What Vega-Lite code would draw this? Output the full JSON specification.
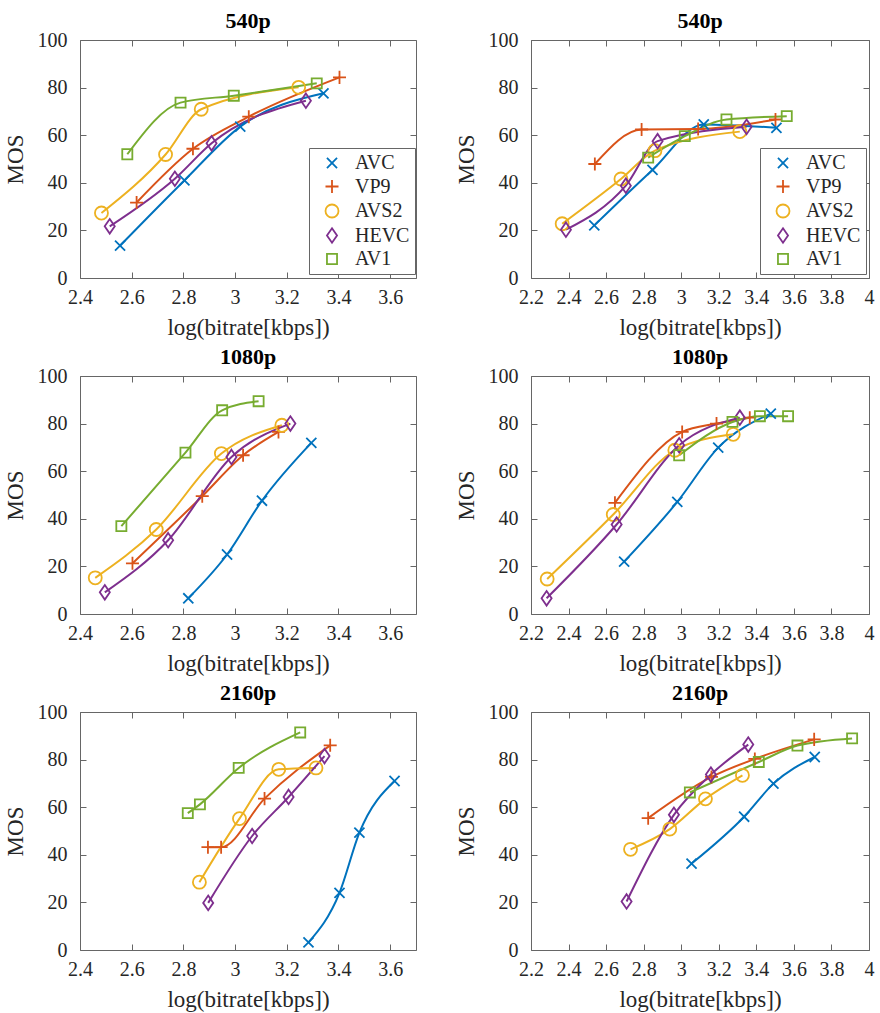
{
  "$schema": "https://vega.github.io/schema/vega-lite/v6.json",
  "padding": {"left": 3, "top": 9, "right": 5, "bottom": 0},
  "data": {"values": [
    {"p": "1", "codec": "AVC", "x": 2.555, "y": 13.6}, {"p": "1", "codec": "AVC", "x": 2.804, "y": 41.0}, {"p": "1", "codec": "AVC", "x": 3.020, "y": 63.6}, {"p": "1", "codec": "AVC", "x": 3.342, "y": 77.6},
    {"p": "1", "codec": "VP9", "x": 2.619, "y": 31.7}, {"p": "1", "codec": "VP9", "x": 2.837, "y": 54.3}, {"p": "1", "codec": "VP9", "x": 3.053, "y": 67.8}, {"p": "1", "codec": "VP9", "x": 3.404, "y": 84.3},
    {"p": "1", "codec": "AVS2", "x": 2.483, "y": 27.3}, {"p": "1", "codec": "AVS2", "x": 2.731, "y": 51.9}, {"p": "1", "codec": "AVS2", "x": 2.869, "y": 70.9}, {"p": "1", "codec": "AVS2", "x": 3.246, "y": 80.1},
    {"p": "1", "codec": "HEVC", "x": 2.515, "y": 21.7}, {"p": "1", "codec": "HEVC", "x": 2.767, "y": 41.7}, {"p": "1", "codec": "HEVC", "x": 2.909, "y": 56.6}, {"p": "1", "codec": "HEVC", "x": 3.274, "y": 74.5},
    {"p": "1", "codec": "AV1", "x": 2.583, "y": 52.0}, {"p": "1", "codec": "AV1", "x": 2.789, "y": 73.7}, {"p": "1", "codec": "AV1", "x": 2.995, "y": 76.6}, {"p": "1", "codec": "AV1", "x": 3.316, "y": 81.8},

    {"p": "2", "codec": "AVC", "x": 2.537, "y": 22.1}, {"p": "2", "codec": "AVC", "x": 2.847, "y": 45.4}, {"p": "2", "codec": "AVC", "x": 3.120, "y": 64.5}, {"p": "2", "codec": "AVC", "x": 3.507, "y": 63.1},
    {"p": "2", "codec": "VP9", "x": 2.540, "y": 47.9}, {"p": "2", "codec": "VP9", "x": 2.789, "y": 62.4}, {"p": "2", "codec": "VP9", "x": 3.090, "y": 62.6}, {"p": "2", "codec": "VP9", "x": 3.502, "y": 66.6},
    {"p": "2", "codec": "AVS2", "x": 2.366, "y": 22.8}, {"p": "2", "codec": "AVS2", "x": 2.679, "y": 41.6}, {"p": "2", "codec": "AVS2", "x": 2.860, "y": 53.5}, {"p": "2", "codec": "AVS2", "x": 3.312, "y": 61.5},
    {"p": "2", "codec": "HEVC", "x": 2.386, "y": 20.3}, {"p": "2", "codec": "HEVC", "x": 2.705, "y": 38.8}, {"p": "2", "codec": "HEVC", "x": 2.874, "y": 57.5}, {"p": "2", "codec": "HEVC", "x": 3.348, "y": 63.5},
    {"p": "2", "codec": "AV1", "x": 2.824, "y": 50.6}, {"p": "2", "codec": "AV1", "x": 3.019, "y": 59.6}, {"p": "2", "codec": "AV1", "x": 3.241, "y": 66.6}, {"p": "2", "codec": "AV1", "x": 3.562, "y": 68.0},

    {"p": "3", "codec": "AVC", "x": 2.819, "y": 6.6}, {"p": "3", "codec": "AVC", "x": 2.969, "y": 25.0}, {"p": "3", "codec": "AVC", "x": 3.104, "y": 47.6}, {"p": "3", "codec": "AVC", "x": 3.295, "y": 71.9},
    {"p": "3", "codec": "VP9", "x": 2.603, "y": 21.3}, {"p": "3", "codec": "VP9", "x": 2.873, "y": 49.5}, {"p": "3", "codec": "VP9", "x": 3.031, "y": 66.7}, {"p": "3", "codec": "VP9", "x": 3.168, "y": 76.5},
    {"p": "3", "codec": "AVS2", "x": 2.459, "y": 15.2}, {"p": "3", "codec": "AVS2", "x": 2.695, "y": 35.5}, {"p": "3", "codec": "AVS2", "x": 2.947, "y": 67.4}, {"p": "3", "codec": "AVS2", "x": 3.181, "y": 79.3},
    {"p": "3", "codec": "HEVC", "x": 2.496, "y": 9.1}, {"p": "3", "codec": "HEVC", "x": 2.741, "y": 31.0}, {"p": "3", "codec": "HEVC", "x": 2.986, "y": 66.0}, {"p": "3", "codec": "HEVC", "x": 3.214, "y": 80.0},
    {"p": "3", "codec": "AV1", "x": 2.560, "y": 36.9}, {"p": "3", "codec": "AV1", "x": 2.808, "y": 67.8}, {"p": "3", "codec": "AV1", "x": 2.950, "y": 85.6}, {"p": "3", "codec": "AV1", "x": 3.091, "y": 89.4},

    {"p": "4", "codec": "AVC", "x": 2.696, "y": 22.0}, {"p": "4", "codec": "AVC", "x": 2.979, "y": 47.1}, {"p": "4", "codec": "AVC", "x": 3.197, "y": 69.9}, {"p": "4", "codec": "AVC", "x": 3.477, "y": 84.2},
    {"p": "4", "codec": "VP9", "x": 2.647, "y": 46.7}, {"p": "4", "codec": "VP9", "x": 3.005, "y": 76.5}, {"p": "4", "codec": "VP9", "x": 3.188, "y": 80.0}, {"p": "4", "codec": "VP9", "x": 3.365, "y": 82.5},
    {"p": "4", "codec": "AVS2", "x": 2.286, "y": 14.7}, {"p": "4", "codec": "AVS2", "x": 2.638, "y": 41.8}, {"p": "4", "codec": "AVS2", "x": 2.966, "y": 68.8}, {"p": "4", "codec": "AVS2", "x": 3.277, "y": 75.5},
    {"p": "4", "codec": "HEVC", "x": 2.283, "y": 6.6}, {"p": "4", "codec": "HEVC", "x": 2.656, "y": 37.6}, {"p": "4", "codec": "HEVC", "x": 2.989, "y": 70.9}, {"p": "4", "codec": "HEVC", "x": 3.312, "y": 82.5},
    {"p": "4", "codec": "AV1", "x": 2.989, "y": 66.7}, {"p": "4", "codec": "AV1", "x": 3.273, "y": 80.7}, {"p": "4", "codec": "AV1", "x": 3.419, "y": 83.1}, {"p": "4", "codec": "AV1", "x": 3.569, "y": 83.1},

    {"p": "5", "codec": "AVC", "x": 3.284, "y": 3.2}, {"p": "5", "codec": "AVC", "x": 3.404, "y": 24.0}, {"p": "5", "codec": "AVC", "x": 3.481, "y": 49.3}, {"p": "5", "codec": "AVC", "x": 3.617, "y": 71.0},
    {"p": "5", "codec": "VP9", "x": 2.895, "y": 43.2}, {"p": "5", "codec": "VP9", "x": 2.946, "y": 43.2}, {"p": "5", "codec": "VP9", "x": 3.114, "y": 63.6}, {"p": "5", "codec": "VP9", "x": 3.368, "y": 86.0},
    {"p": "5", "codec": "AVS2", "x": 2.862, "y": 28.5}, {"p": "5", "codec": "AVS2", "x": 3.017, "y": 55.2}, {"p": "5", "codec": "AVS2", "x": 3.169, "y": 75.9}, {"p": "5", "codec": "AVS2", "x": 3.313, "y": 76.5},
    {"p": "5", "codec": "HEVC", "x": 2.896, "y": 19.8}, {"p": "5", "codec": "HEVC", "x": 3.066, "y": 47.9}, {"p": "5", "codec": "HEVC", "x": 3.207, "y": 64.3}, {"p": "5", "codec": "HEVC", "x": 3.346, "y": 81.5},
    {"p": "5", "codec": "AV1", "x": 2.817, "y": 57.5}, {"p": "5", "codec": "AV1", "x": 2.864, "y": 61.2}, {"p": "5", "codec": "AV1", "x": 3.014, "y": 76.5}, {"p": "5", "codec": "AV1", "x": 3.252, "y": 91.4},

    {"p": "6", "codec": "AVC", "x": 3.055, "y": 36.3}, {"p": "6", "codec": "AVC", "x": 3.335, "y": 56.0}, {"p": "6", "codec": "AVC", "x": 3.491, "y": 69.9}, {"p": "6", "codec": "AVC", "x": 3.711, "y": 81.1},
    {"p": "6", "codec": "VP9", "x": 2.824, "y": 55.4}, {"p": "6", "codec": "VP9", "x": 3.161, "y": 72.7}, {"p": "6", "codec": "VP9", "x": 3.392, "y": 80.3}, {"p": "6", "codec": "VP9", "x": 3.708, "y": 88.5},
    {"p": "6", "codec": "AVS2", "x": 2.730, "y": 42.3}, {"p": "6", "codec": "AVS2", "x": 2.939, "y": 50.8}, {"p": "6", "codec": "AVS2", "x": 3.129, "y": 63.5}, {"p": "6", "codec": "AVS2", "x": 3.326, "y": 73.4},
    {"p": "6", "codec": "HEVC", "x": 2.709, "y": 20.4}, {"p": "6", "codec": "HEVC", "x": 2.961, "y": 56.8}, {"p": "6", "codec": "HEVC", "x": 3.158, "y": 73.7}, {"p": "6", "codec": "HEVC", "x": 3.357, "y": 86.3},
    {"p": "6", "codec": "AV1", "x": 3.046, "y": 66.2}, {"p": "6", "codec": "AV1", "x": 3.413, "y": 79.0}, {"p": "6", "codec": "AV1", "x": 3.619, "y": 85.9}, {"p": "6", "codec": "AV1", "x": 3.910, "y": 88.9}
  ]},
  "columns": 2,
  "spacing": {"row": 5, "column": 37},
  "resolve": {"scale": {"color": "independent", "stroke": "independent", "shape": "independent", "x": "independent", "y": "independent"}},
  "concat": [
    {
      "title": "540p", "width": 336, "height": 238,
      "transform": [{"filter": "datum.p == '1'"}],
      "layer": [
        {"mark": {"type": "line", "interpolate": "monotone", "strokeWidth": 2},
         "encoding": {
           "x": {"field": "x", "type": "quantitative", "scale": {"domain": [2.4, 3.7], "nice": false, "zero": false}, "axis": {"title": "log(bitrate[kbps])", "values": [2.4, 2.6, 2.8, 3.0, 3.2, 3.4, 3.6], "format": "~g"}},
           "y": {"field": "y", "type": "quantitative", "scale": {"domain": [0, 100], "nice": false}, "axis": {"title": "MOS", "values": [0, 20, 40, 60, 80, 100]}},
           "stroke": {"field": "codec", "type": "nominal", "scale": {"domain": ["AV1", "AVC", "AVS2", "HEVC", "VP9"], "range": ["#77AC30", "#0072BD", "#EDB120", "#7E2F8E", "#D95319"]}, "legend": null}}},
        {"mark": {"type": "point", "filled": false, "strokeWidth": 1.8, "size": 196, "opacity": 1},
         "encoding": {
           "x": {"field": "x", "type": "quantitative", "axis": null},
           "y": {"field": "y", "type": "quantitative", "axis": null},
           "color": {"field": "codec", "type": "nominal", "title": null, "scale": {"domain": ["AVC", "VP9", "AVS2", "HEVC", "AV1"], "range": ["#0072BD", "#D95319", "#EDB120", "#7E2F8E", "#77AC30"]}, "legend": {"orient": "none", "legendX": 229, "legendY": 108}},
           "shape": {"field": "codec", "type": "nominal", "title": null, "scale": {"domain": ["AVC", "VP9", "AVS2", "HEVC", "AV1"], "range": ["M-0.72,-0.72L0.72,0.72M-0.72,0.72L0.72,-0.72", "M-0.93,0L0.93,0M0,-0.93L0,0.93", "M0.93,0A0.93,0.93 0 1,1 -0.93,0A0.93,0.93 0 1,1 0.93,0Z", "M0,-1.04L0.72,0L0,1.04L-0.72,0Z", "M-0.72,-0.72L0.72,-0.72L0.72,0.72L-0.72,0.72Z"]}, "legend": {"orient": "none", "legendX": 229, "legendY": 108}}}},
        {"mark": {"type": "point", "opacity": 0},
         "encoding": {
           "x": {"field": "x", "type": "quantitative", "axis": {"orient": "top", "labels": false, "title": null, "labelPadding": 0, "values": [2.4, 2.6, 2.8, 3.0, 3.2, 3.4, 3.6]}},
           "y": {"field": "y", "type": "quantitative", "axis": {"orient": "right", "labels": false, "title": null, "labelPadding": 0, "values": [0, 20, 40, 60, 80, 100]}}}}
      ],
      "resolve": {"axis": {"x": "independent", "y": "independent"}}
    },
    {
      "title": "540p", "width": 338, "height": 238,
      "transform": [{"filter": "datum.p == '2'"}],
      "layer": [
        {"mark": {"type": "line", "interpolate": "monotone", "strokeWidth": 2},
         "encoding": {
           "x": {"field": "x", "type": "quantitative", "scale": {"domain": [2.2, 4.0], "nice": false, "zero": false}, "axis": {"title": "log(bitrate[kbps])", "values": [2.2, 2.4, 2.6, 2.8, 3.0, 3.2, 3.4, 3.6, 3.8, 4.0], "format": "~g"}},
           "y": {"field": "y", "type": "quantitative", "scale": {"domain": [0, 100], "nice": false}, "axis": {"title": "MOS", "values": [0, 20, 40, 60, 80, 100]}},
           "stroke": {"field": "codec", "type": "nominal", "scale": {"domain": ["AV1", "AVC", "AVS2", "HEVC", "VP9"], "range": ["#77AC30", "#0072BD", "#EDB120", "#7E2F8E", "#D95319"]}, "legend": null}}},
        {"mark": {"type": "point", "filled": false, "strokeWidth": 1.8, "size": 196, "opacity": 1},
         "encoding": {
           "x": {"field": "x", "type": "quantitative", "axis": null},
           "y": {"field": "y", "type": "quantitative", "axis": null},
           "color": {"field": "codec", "type": "nominal", "title": null, "scale": {"domain": ["AVC", "VP9", "AVS2", "HEVC", "AV1"], "range": ["#0072BD", "#D95319", "#EDB120", "#7E2F8E", "#77AC30"]}, "legend": {"orient": "none", "legendX": 229, "legendY": 108}},
           "shape": {"field": "codec", "type": "nominal", "title": null, "scale": {"domain": ["AVC", "VP9", "AVS2", "HEVC", "AV1"], "range": ["M-0.72,-0.72L0.72,0.72M-0.72,0.72L0.72,-0.72", "M-0.93,0L0.93,0M0,-0.93L0,0.93", "M0.93,0A0.93,0.93 0 1,1 -0.93,0A0.93,0.93 0 1,1 0.93,0Z", "M0,-1.04L0.72,0L0,1.04L-0.72,0Z", "M-0.72,-0.72L0.72,-0.72L0.72,0.72L-0.72,0.72Z"]}, "legend": {"orient": "none", "legendX": 229, "legendY": 108}}}},
        {"mark": {"type": "point", "opacity": 0},
         "encoding": {
           "x": {"field": "x", "type": "quantitative", "axis": {"orient": "top", "labels": false, "title": null, "labelPadding": 0, "values": [2.2, 2.4, 2.6, 2.8, 3.0, 3.2, 3.4, 3.6, 3.8, 4.0]}},
           "y": {"field": "y", "type": "quantitative", "axis": {"orient": "right", "labels": false, "title": null, "labelPadding": 0, "values": [0, 20, 40, 60, 80, 100]}}}}
      ],
      "resolve": {"axis": {"x": "independent", "y": "independent"}}
    },
    {
      "title": "1080p", "width": 336, "height": 238,
      "transform": [{"filter": "datum.p == '3'"}],
      "layer": [
        {"mark": {"type": "line", "interpolate": "monotone", "strokeWidth": 2},
         "encoding": {
           "x": {"field": "x", "type": "quantitative", "scale": {"domain": [2.4, 3.7], "nice": false, "zero": false}, "axis": {"title": "log(bitrate[kbps])", "values": [2.4, 2.6, 2.8, 3.0, 3.2, 3.4, 3.6], "format": "~g"}},
           "y": {"field": "y", "type": "quantitative", "scale": {"domain": [0, 100], "nice": false}, "axis": {"title": "MOS", "values": [0, 20, 40, 60, 80, 100]}},
           "stroke": {"field": "codec", "type": "nominal", "scale": {"domain": ["AV1", "AVC", "AVS2", "HEVC", "VP9"], "range": ["#77AC30", "#0072BD", "#EDB120", "#7E2F8E", "#D95319"]}, "legend": null}}},
        {"mark": {"type": "point", "filled": false, "strokeWidth": 1.8, "size": 196, "opacity": 1},
         "encoding": {
           "x": {"field": "x", "type": "quantitative", "axis": null},
           "y": {"field": "y", "type": "quantitative", "axis": null},
           "color": {"field": "codec", "type": "nominal", "scale": {"domain": ["AVC", "VP9", "AVS2", "HEVC", "AV1"], "range": ["#0072BD", "#D95319", "#EDB120", "#7E2F8E", "#77AC30"]}, "legend": null},
           "shape": {"field": "codec", "type": "nominal", "scale": {"domain": ["AVC", "VP9", "AVS2", "HEVC", "AV1"], "range": ["M-0.72,-0.72L0.72,0.72M-0.72,0.72L0.72,-0.72", "M-0.93,0L0.93,0M0,-0.93L0,0.93", "M0.93,0A0.93,0.93 0 1,1 -0.93,0A0.93,0.93 0 1,1 0.93,0Z", "M0,-1.04L0.72,0L0,1.04L-0.72,0Z", "M-0.72,-0.72L0.72,-0.72L0.72,0.72L-0.72,0.72Z"]}, "legend": null}}},
        {"mark": {"type": "point", "opacity": 0},
         "encoding": {
           "x": {"field": "x", "type": "quantitative", "axis": {"orient": "top", "labels": false, "title": null, "labelPadding": 0, "values": [2.4, 2.6, 2.8, 3.0, 3.2, 3.4, 3.6]}},
           "y": {"field": "y", "type": "quantitative", "axis": {"orient": "right", "labels": false, "title": null, "labelPadding": 0, "values": [0, 20, 40, 60, 80, 100]}}}}
      ],
      "resolve": {"axis": {"x": "independent", "y": "independent"}}
    },
    {
      "title": "1080p", "width": 338, "height": 238,
      "transform": [{"filter": "datum.p == '4'"}],
      "layer": [
        {"mark": {"type": "line", "interpolate": "monotone", "strokeWidth": 2},
         "encoding": {
           "x": {"field": "x", "type": "quantitative", "scale": {"domain": [2.2, 4.0], "nice": false, "zero": false}, "axis": {"title": "log(bitrate[kbps])", "values": [2.2, 2.4, 2.6, 2.8, 3.0, 3.2, 3.4, 3.6, 3.8, 4.0], "format": "~g"}},
           "y": {"field": "y", "type": "quantitative", "scale": {"domain": [0, 100], "nice": false}, "axis": {"title": "MOS", "values": [0, 20, 40, 60, 80, 100]}},
           "stroke": {"field": "codec", "type": "nominal", "scale": {"domain": ["AV1", "AVC", "AVS2", "HEVC", "VP9"], "range": ["#77AC30", "#0072BD", "#EDB120", "#7E2F8E", "#D95319"]}, "legend": null}}},
        {"mark": {"type": "point", "filled": false, "strokeWidth": 1.8, "size": 196, "opacity": 1},
         "encoding": {
           "x": {"field": "x", "type": "quantitative", "axis": null},
           "y": {"field": "y", "type": "quantitative", "axis": null},
           "color": {"field": "codec", "type": "nominal", "scale": {"domain": ["AVC", "VP9", "AVS2", "HEVC", "AV1"], "range": ["#0072BD", "#D95319", "#EDB120", "#7E2F8E", "#77AC30"]}, "legend": null},
           "shape": {"field": "codec", "type": "nominal", "scale": {"domain": ["AVC", "VP9", "AVS2", "HEVC", "AV1"], "range": ["M-0.72,-0.72L0.72,0.72M-0.72,0.72L0.72,-0.72", "M-0.93,0L0.93,0M0,-0.93L0,0.93", "M0.93,0A0.93,0.93 0 1,1 -0.93,0A0.93,0.93 0 1,1 0.93,0Z", "M0,-1.04L0.72,0L0,1.04L-0.72,0Z", "M-0.72,-0.72L0.72,-0.72L0.72,0.72L-0.72,0.72Z"]}, "legend": null}}},
        {"mark": {"type": "point", "opacity": 0},
         "encoding": {
           "x": {"field": "x", "type": "quantitative", "axis": {"orient": "top", "labels": false, "title": null, "labelPadding": 0, "values": [2.2, 2.4, 2.6, 2.8, 3.0, 3.2, 3.4, 3.6, 3.8, 4.0]}},
           "y": {"field": "y", "type": "quantitative", "axis": {"orient": "right", "labels": false, "title": null, "labelPadding": 0, "values": [0, 20, 40, 60, 80, 100]}}}}
      ],
      "resolve": {"axis": {"x": "independent", "y": "independent"}}
    },
    {
      "title": "2160p", "width": 336, "height": 238,
      "transform": [{"filter": "datum.p == '5'"}],
      "layer": [
        {"mark": {"type": "line", "interpolate": "monotone", "strokeWidth": 2},
         "encoding": {
           "x": {"field": "x", "type": "quantitative", "scale": {"domain": [2.4, 3.7], "nice": false, "zero": false}, "axis": {"title": "log(bitrate[kbps])", "values": [2.4, 2.6, 2.8, 3.0, 3.2, 3.4, 3.6], "format": "~g"}},
           "y": {"field": "y", "type": "quantitative", "scale": {"domain": [0, 100], "nice": false}, "axis": {"title": "MOS", "values": [0, 20, 40, 60, 80, 100]}},
           "stroke": {"field": "codec", "type": "nominal", "scale": {"domain": ["AV1", "AVC", "AVS2", "HEVC", "VP9"], "range": ["#77AC30", "#0072BD", "#EDB120", "#7E2F8E", "#D95319"]}, "legend": null}}},
        {"mark": {"type": "point", "filled": false, "strokeWidth": 1.8, "size": 196, "opacity": 1},
         "encoding": {
           "x": {"field": "x", "type": "quantitative", "axis": null},
           "y": {"field": "y", "type": "quantitative", "axis": null},
           "color": {"field": "codec", "type": "nominal", "scale": {"domain": ["AVC", "VP9", "AVS2", "HEVC", "AV1"], "range": ["#0072BD", "#D95319", "#EDB120", "#7E2F8E", "#77AC30"]}, "legend": null},
           "shape": {"field": "codec", "type": "nominal", "scale": {"domain": ["AVC", "VP9", "AVS2", "HEVC", "AV1"], "range": ["M-0.72,-0.72L0.72,0.72M-0.72,0.72L0.72,-0.72", "M-0.93,0L0.93,0M0,-0.93L0,0.93", "M0.93,0A0.93,0.93 0 1,1 -0.93,0A0.93,0.93 0 1,1 0.93,0Z", "M0,-1.04L0.72,0L0,1.04L-0.72,0Z", "M-0.72,-0.72L0.72,-0.72L0.72,0.72L-0.72,0.72Z"]}, "legend": null}}},
        {"mark": {"type": "point", "opacity": 0},
         "encoding": {
           "x": {"field": "x", "type": "quantitative", "axis": {"orient": "top", "labels": false, "title": null, "labelPadding": 0, "values": [2.4, 2.6, 2.8, 3.0, 3.2, 3.4, 3.6]}},
           "y": {"field": "y", "type": "quantitative", "axis": {"orient": "right", "labels": false, "title": null, "labelPadding": 0, "values": [0, 20, 40, 60, 80, 100]}}}}
      ],
      "resolve": {"axis": {"x": "independent", "y": "independent"}}
    },
    {
      "title": "2160p", "width": 338, "height": 238,
      "transform": [{"filter": "datum.p == '6'"}],
      "layer": [
        {"mark": {"type": "line", "interpolate": "monotone", "strokeWidth": 2},
         "encoding": {
           "x": {"field": "x", "type": "quantitative", "scale": {"domain": [2.2, 4.0], "nice": false, "zero": false}, "axis": {"title": "log(bitrate[kbps])", "values": [2.2, 2.4, 2.6, 2.8, 3.0, 3.2, 3.4, 3.6, 3.8, 4.0], "format": "~g"}},
           "y": {"field": "y", "type": "quantitative", "scale": {"domain": [0, 100], "nice": false}, "axis": {"title": "MOS", "values": [0, 20, 40, 60, 80, 100]}},
           "stroke": {"field": "codec", "type": "nominal", "scale": {"domain": ["AV1", "AVC", "AVS2", "HEVC", "VP9"], "range": ["#77AC30", "#0072BD", "#EDB120", "#7E2F8E", "#D95319"]}, "legend": null}}},
        {"mark": {"type": "point", "filled": false, "strokeWidth": 1.8, "size": 196, "opacity": 1},
         "encoding": {
           "x": {"field": "x", "type": "quantitative", "axis": null},
           "y": {"field": "y", "type": "quantitative", "axis": null},
           "color": {"field": "codec", "type": "nominal", "scale": {"domain": ["AVC", "VP9", "AVS2", "HEVC", "AV1"], "range": ["#0072BD", "#D95319", "#EDB120", "#7E2F8E", "#77AC30"]}, "legend": null},
           "shape": {"field": "codec", "type": "nominal", "scale": {"domain": ["AVC", "VP9", "AVS2", "HEVC", "AV1"], "range": ["M-0.72,-0.72L0.72,0.72M-0.72,0.72L0.72,-0.72", "M-0.93,0L0.93,0M0,-0.93L0,0.93", "M0.93,0A0.93,0.93 0 1,1 -0.93,0A0.93,0.93 0 1,1 0.93,0Z", "M0,-1.04L0.72,0L0,1.04L-0.72,0Z", "M-0.72,-0.72L0.72,-0.72L0.72,0.72L-0.72,0.72Z"]}, "legend": null}}},
        {"mark": {"type": "point", "opacity": 0},
         "encoding": {
           "x": {"field": "x", "type": "quantitative", "axis": {"orient": "top", "labels": false, "title": null, "labelPadding": 0, "values": [2.2, 2.4, 2.6, 2.8, 3.0, 3.2, 3.4, 3.6, 3.8, 4.0]}},
           "y": {"field": "y", "type": "quantitative", "axis": {"orient": "right", "labels": false, "title": null, "labelPadding": 0, "values": [0, 20, 40, 60, 80, 100]}}}}
      ],
      "resolve": {"axis": {"x": "independent", "y": "independent"}}
    }
  ],
  "config": {
    "font": "Liberation Serif",
    "background": "white",
    "view": {"stroke": "#666666", "strokeWidth": 1},
    "axis": {"domain": false, "grid": false, "tickSize": -6, "tickColor": "#666666", "tickWidth": 1, "labelFlush": false, "labelOverlap": false,
             "labelFont": "Liberation Serif", "labelFontSize": 20, "labelColor": "#262626",
             "titleFont": "Liberation Serif", "titleFontSize": 23, "titleFontWeight": "normal", "titleColor": "#262626"},
    "axisBottom": {"labelPadding": 15, "titlePadding": 9},
    "axisLeft": {"labelPadding": 19, "titlePadding": 10},
    "title": {"font": "Liberation Serif", "fontSize": 22, "fontWeight": "bold", "color": "#000000", "offset": -3},
    "legend": {"strokeColor": "#666666", "fillColor": "white", "padding": 5,
               "labelFont": "Liberation Serif", "labelFontSize": 20, "labelColor": "#262626",
               "symbolSize": 196, "symbolStrokeWidth": 1.8, "symbolOpacity": 1, "rowPadding": 2.5, "symbolOffset": 8, "labelOffset": 13}
  }
}
